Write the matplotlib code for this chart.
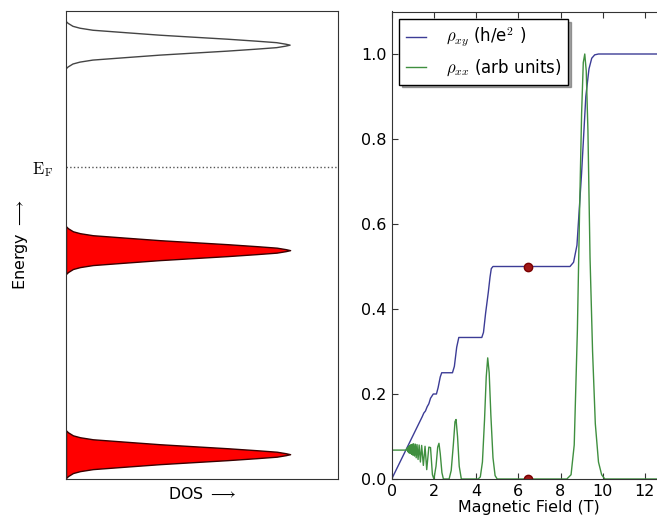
import numpy as np
import matplotlib
matplotlib.use('Agg')
import matplotlib.pyplot as plt

plt.rcParams['mathtext.fontset'] = 'cm'
plt.rcParams['font.family'] = 'DejaVu Sans'

# ---------------------------------------------------------------------------
# Left panel: Landau-level density of states (axes units 0..1)
# ---------------------------------------------------------------------------
level_centers = [0.053, 0.489, 0.927]
level_filled = [True, True, False]
level_height = 0.824
level_halfwidth = 0.051
fermi_energy = 0.667

# half profile of one broadened level
profile_offset = [0.0, 0.042, 0.104, 0.167, 0.25, 0.333, 0.417, 0.52,
                  0.625, 0.71, 0.79, 0.917, 1.0]
profile_dos = [1.0, 0.98, 0.94, 0.85, 0.72, 0.57, 0.42, 0.27,
               0.12, 0.0625, 0.031, 0.009, 0.0]

# ---------------------------------------------------------------------------
# Right panel: Hall and longitudinal resistivity vs field
# ---------------------------------------------------------------------------
b_xy = [0, 1.45, 1.52, 1.60, 1.68, 1.76, 1.84, 1.97, 2.12, 2.20, 2.30, 2.37,
        2.88, 2.97, 3.08, 3.18, 4.27, 4.35, 4.45, 4.58, 4.66, 4.72, 4.80,
        8.45, 8.62, 8.78, 9.00, 9.20, 9.35, 9.48, 9.62, 9.80, 13.0]
rho_xy = [0, 0.147, 0.155, 0.160, 0.170, 0.177, 0.190, 0.200, 0.200, 0.215,
          0.240, 0.250, 0.250, 0.265, 0.310, 0.333, 0.333, 0.345, 0.390,
          0.440, 0.475, 0.495, 0.500, 0.500, 0.510, 0.550, 0.720, 0.900,
          0.965, 0.990, 0.998, 1.0, 1.0]

b_xx = [0, 0.70, 0.74, 0.77, 0.80, 0.83, 0.86, 0.89, 0.92, 0.95, 0.98, 1.01,
        1.04, 1.08, 1.12, 1.16, 1.20, 1.25, 1.30, 1.36, 1.42, 1.50, 1.58,
        1.66, 1.76, 1.84, 1.93, 2.00, 2.10, 2.18, 2.24, 2.30, 2.38, 2.45,
        2.72, 2.82, 2.92, 3.00, 3.05, 3.12, 3.20, 3.30,
        4.10, 4.20, 4.30, 4.40, 4.48, 4.55, 4.62, 4.70, 4.80, 4.90, 5.00,
        8.30, 8.50, 8.65, 8.80, 8.90, 9.00, 9.08, 9.15, 9.22, 9.30, 9.40,
        9.52, 9.65, 9.80, 9.95, 10.1, 13.0]
rho_xx = [0.068, 0.068, 0.073, 0.064, 0.077, 0.061, 0.079, 0.060, 0.081,
          0.058, 0.082, 0.056, 0.083, 0.054, 0.082, 0.050, 0.081, 0.046,
          0.080, 0.040, 0.079, 0.032, 0.077, 0.022, 0.075, 0.074, 0.010,
          0.0, 0.03, 0.075, 0.084, 0.060, 0.015, 0.0,
          0.0, 0.02, 0.08, 0.135, 0.14, 0.10, 0.03, 0.0,
          0.0, 0.005, 0.04, 0.14, 0.24, 0.285, 0.25, 0.15, 0.05, 0.008, 0.0,
          0.0, 0.01, 0.08, 0.35, 0.62, 0.86, 0.98, 1.0, 0.96, 0.82, 0.52,
          0.30, 0.13, 0.04, 0.01, 0.0, 0.0]

marker_b = [6.45, 6.45]
marker_rho = [0.5, 0.0]

xy_color = '#3c3c96'
xx_color = '#3f8f3f'
frame_color = '#333333'

fig = plt.figure(figsize=(6.57, 5.19), dpi=100)
fig.patch.set_facecolor('white')

# --- left panel ---
ax1 = fig.add_axes([66 / 657, 40 / 519, 272 / 657, 468 / 519])
half_off = np.array(profile_offset)
half_dos = np.array(profile_dos)
off = np.concatenate([-half_off[::-1], half_off[1:]])
dos = np.concatenate([half_dos[::-1], half_dos[1:]])

for c, filled in zip(level_centers, level_filled):
    y = c + off * level_halfwidth
    x = dos * level_height
    if filled:
        ax1.fill_betweenx(y, 0, x, facecolor='red', edgecolor='#3a0000',
                          linewidth=1.0)
    else:
        ax1.plot(x, y, color='#444444', linewidth=1.0)

ax1.axhline(fermi_energy, color='#555555', linestyle=':', linewidth=1.0)
ax1.set_xlim(0, 1)
ax1.set_ylim(0, 1)
ax1.set_xticks([])
ax1.set_yticks([fermi_energy])
ax1.set_yticklabels([r'$\mathrm{E_F}$'], fontsize=12)
ax1.tick_params(axis='y', length=0, pad=9)
ax1.set_xlabel(r'DOS $\longrightarrow$', fontsize=11.3, labelpad=5)
ax1.set_ylabel(r'Energy $\longrightarrow$', fontsize=11.5, labelpad=2)
for s in ax1.spines.values():
    s.set_color(frame_color)

# --- right panel ---
ax2 = fig.add_axes([391.7 / 657, 40 / 519, 274.3 / 657, 467.5 / 519])
ax2.plot(b_xy, rho_xy, color=xy_color, linewidth=1.0,
         label=r'$\rho_{xy}$ (h/e$^2$ )')
ax2.plot(b_xx, rho_xx, color=xx_color, linewidth=1.0,
         label=r'$\rho_{xx}$ (arb units)')
ax2.plot(marker_b, marker_rho, 'o', color='#a01818', markersize=6,
         markeredgecolor='#7a0000')

ax2.set_xlim(0, 13)
ax2.set_ylim(0, 1.1)
ax2.set_xticks(np.arange(0, 13, 2))
ax2.set_yticks(np.arange(0, 1.01, 0.2))
ax2.tick_params(direction='in', top=True, right=True, length=4,
                labelsize=11.5, color=frame_color)
ax2.set_xlabel('Magnetic Field (T)', fontsize=11.4, labelpad=1)
for s in ax2.spines.values():
    s.set_color(frame_color)

leg = ax2.legend(loc='upper left', fontsize=12, handlelength=1.2,
                 handletextpad=1.2, fancybox=False, shadow=True,
                 borderaxespad=0.45)
leg.get_frame().set_edgecolor('black')

fig.savefig('out.png', dpi=100, facecolor='white')
